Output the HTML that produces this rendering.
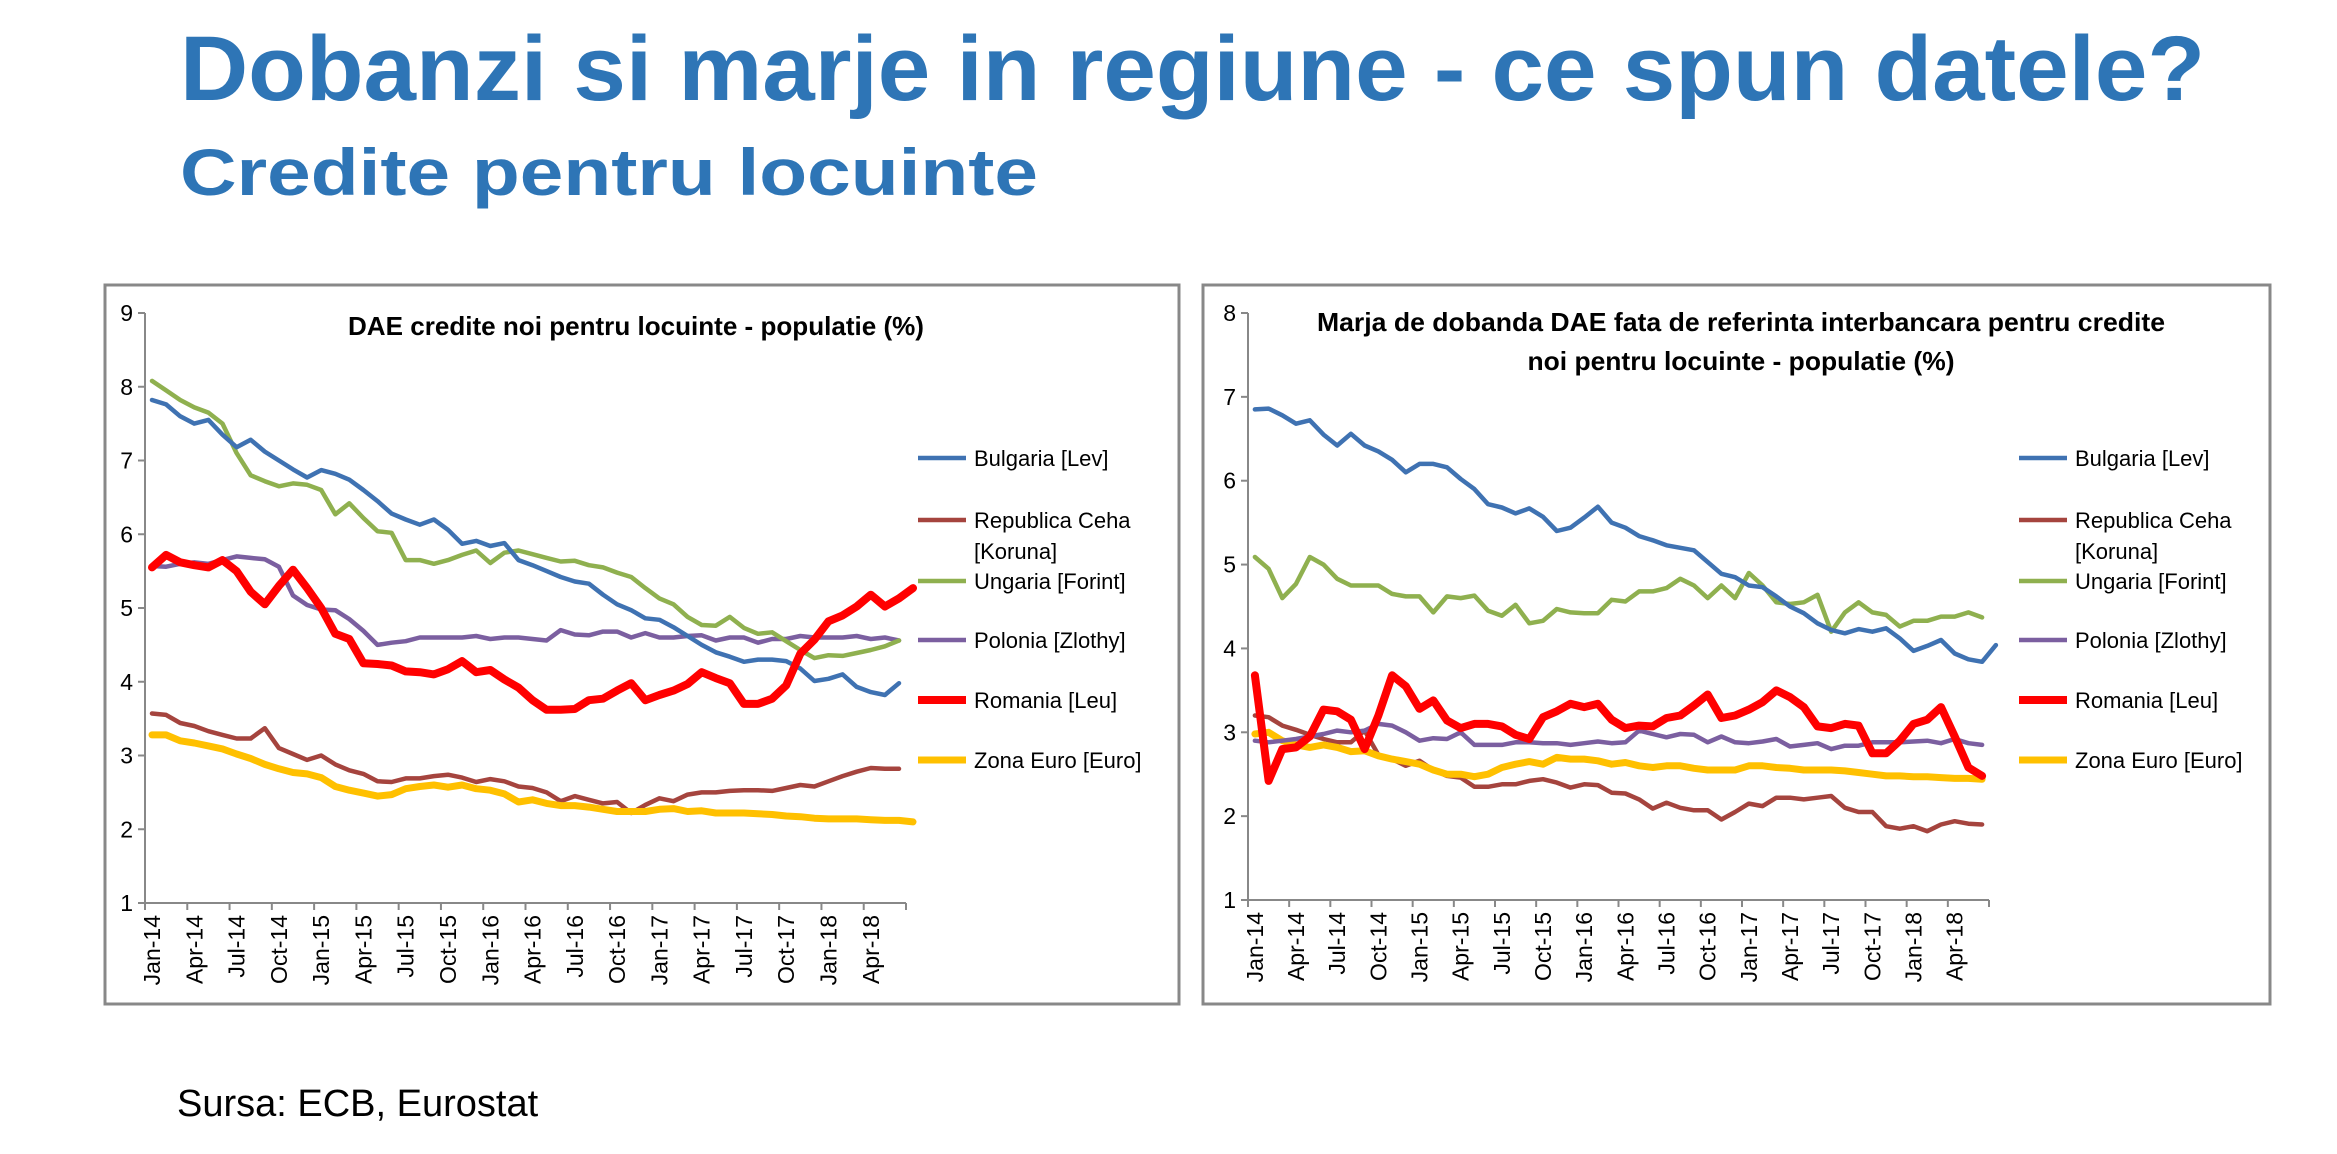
<!DOCTYPE html>
<html><head><meta charset="utf-8"><style>
html,body{margin:0;padding:0;background:#fff;width:2337px;height:1154px;overflow:hidden}
svg{display:block;font-family:"Liberation Sans",Arial,sans-serif}
</style></head><body>
<svg id="s" width="2337" height="1154" viewBox="0 0 2337 1154" xmlns="http://www.w3.org/2000/svg">
<text x="180" y="100" font-size="92" font-weight="bold" fill="#2E75B6" textLength="2025" lengthAdjust="spacingAndGlyphs">Dobanzi si marje in regiune - ce spun datele?</text>
<text x="180" y="195" font-size="66" font-weight="bold" fill="#2E75B6" textLength="858" lengthAdjust="spacingAndGlyphs">Credite pentru locuinte</text>
<text x="177" y="1116" font-size="38" fill="#000">Sursa: ECB, Eurostat</text>
<rect x="105" y="285" width="1074" height="719" fill="#fff" stroke="#888" stroke-width="3"/>
<rect x="1203" y="285" width="1067" height="719" fill="#fff" stroke="#888" stroke-width="3"/>
<text x="636" y="335" font-size="26" font-weight="bold" text-anchor="middle" textLength="576" lengthAdjust="spacingAndGlyphs">DAE credite noi pentru locuinte - populatie (%)</text>
<text x="1741" y="331" font-size="26" font-weight="bold" text-anchor="middle" textLength="848" lengthAdjust="spacingAndGlyphs">Marja de dobanda  DAE fata de referinta interbancara pentru credite</text>
<text x="1741" y="370" font-size="26" font-weight="bold" text-anchor="middle" textLength="427" lengthAdjust="spacingAndGlyphs">noi pentru locuinte - populatie (%)</text>
<g id="g"></g>
</svg>
<script>
var L={
b:[7.82,7.76,7.6,7.5,7.55,7.35,7.18,7.28,7.12,7.0,6.88,6.77,6.87,6.82,6.74,6.6,6.45,6.28,6.2,6.13,6.2,6.06,5.87,5.91,5.84,5.88,5.65,5.58,5.5,5.42,5.36,5.33,5.18,5.05,4.97,4.86,4.84,4.74,4.62,4.5,4.4,4.34,4.27,4.3,4.3,4.28,4.18,4.01,4.04,4.1,3.93,3.86,3.82,3.98],
c:[3.57,3.55,3.44,3.4,3.33,3.28,3.23,3.23,3.37,3.1,3.02,2.94,3.0,2.88,2.8,2.75,2.65,2.64,2.69,2.69,2.72,2.74,2.7,2.64,2.68,2.65,2.58,2.56,2.5,2.38,2.45,2.4,2.35,2.37,2.22,2.33,2.42,2.38,2.47,2.5,2.5,2.52,2.53,2.53,2.52,2.56,2.6,2.58,2.65,2.72,2.78,2.83,2.82,2.82],
u:[8.08,7.95,7.82,7.72,7.65,7.5,7.1,6.8,6.72,6.65,6.69,6.67,6.6,6.27,6.42,6.22,6.04,6.02,5.65,5.65,5.6,5.65,5.72,5.78,5.61,5.75,5.78,5.73,5.68,5.63,5.64,5.58,5.55,5.48,5.42,5.27,5.13,5.05,4.88,4.77,4.76,4.88,4.73,4.65,4.67,4.55,4.43,4.32,4.36,4.35,4.39,4.43,4.48,4.56],
p:[5.57,5.56,5.6,5.62,5.6,5.65,5.7,5.68,5.66,5.56,5.17,5.04,4.98,4.97,4.85,4.69,4.5,4.53,4.55,4.6,4.6,4.6,4.6,4.62,4.58,4.6,4.6,4.58,4.56,4.7,4.64,4.63,4.68,4.68,4.6,4.66,4.6,4.6,4.62,4.63,4.56,4.6,4.6,4.53,4.58,4.58,4.62,4.6,4.6,4.6,4.62,4.58,4.6,4.56],
r:[5.55,5.72,5.62,5.58,5.55,5.65,5.5,5.22,5.05,5.3,5.52,5.27,5.0,4.65,4.58,4.25,4.24,4.22,4.14,4.13,4.1,4.17,4.28,4.13,4.16,4.03,3.92,3.75,3.62,3.62,3.63,3.75,3.77,3.88,3.98,3.75,3.82,3.88,3.97,4.13,4.05,3.98,3.7,3.7,3.77,3.95,4.38,4.57,4.82,4.9,5.02,5.18,5.02,5.13,5.27],
e:[3.28,3.28,3.2,3.17,3.13,3.09,3.02,2.96,2.88,2.82,2.77,2.75,2.7,2.58,2.53,2.49,2.45,2.47,2.55,2.58,2.6,2.57,2.6,2.55,2.53,2.48,2.37,2.4,2.35,2.32,2.32,2.3,2.27,2.24,2.24,2.24,2.27,2.28,2.24,2.25,2.22,2.22,2.22,2.21,2.2,2.18,2.17,2.15,2.14,2.14,2.14,2.13,2.12,2.12,2.1]};
var R={
b:[6.85,6.86,6.78,6.68,6.72,6.55,6.42,6.56,6.42,6.35,6.25,6.1,6.2,6.2,6.16,6.02,5.9,5.72,5.68,5.61,5.67,5.57,5.4,5.44,5.56,5.69,5.5,5.44,5.34,5.29,5.23,5.2,5.17,5.03,4.89,4.85,4.75,4.73,4.62,4.5,4.42,4.3,4.22,4.18,4.23,4.2,4.24,4.12,3.97,4.03,4.1,3.94,3.87,3.84,4.04],
c:[3.2,3.18,3.08,3.03,2.97,2.92,2.88,2.88,3.02,2.73,2.68,2.6,2.66,2.55,2.48,2.46,2.35,2.35,2.38,2.38,2.42,2.44,2.4,2.34,2.38,2.37,2.28,2.27,2.2,2.09,2.16,2.1,2.07,2.07,1.96,2.05,2.15,2.12,2.22,2.22,2.2,2.22,2.24,2.1,2.05,2.05,1.88,1.85,1.88,1.82,1.9,1.94,1.91,1.9],
u:[5.09,4.95,4.6,4.77,5.09,5.0,4.83,4.75,4.75,4.75,4.65,4.62,4.62,4.43,4.62,4.6,4.63,4.45,4.39,4.52,4.3,4.33,4.47,4.43,4.42,4.42,4.58,4.56,4.68,4.68,4.72,4.83,4.75,4.6,4.75,4.6,4.9,4.75,4.55,4.53,4.55,4.64,4.2,4.43,4.55,4.43,4.4,4.26,4.33,4.33,4.38,4.38,4.43,4.37],
p:[2.9,2.88,2.9,2.92,2.95,2.98,3.02,3.0,3.02,3.1,3.08,3.0,2.9,2.93,2.92,3.0,2.85,2.85,2.85,2.88,2.88,2.87,2.87,2.85,2.87,2.89,2.87,2.88,3.02,2.98,2.94,2.98,2.97,2.88,2.95,2.88,2.87,2.89,2.92,2.83,2.85,2.87,2.8,2.84,2.84,2.88,2.88,2.88,2.89,2.9,2.87,2.92,2.87,2.85],
r:[3.68,2.42,2.8,2.82,2.95,3.27,3.25,3.15,2.8,3.2,3.68,3.55,3.28,3.38,3.14,3.05,3.1,3.1,3.07,2.97,2.92,3.18,3.25,3.34,3.3,3.34,3.15,3.05,3.08,3.07,3.17,3.2,3.32,3.45,3.17,3.2,3.27,3.36,3.5,3.42,3.3,3.07,3.05,3.1,3.08,2.75,2.75,2.9,3.1,3.15,3.3,2.95,2.58,2.48],
e:[2.98,3.0,2.9,2.85,2.82,2.85,2.82,2.77,2.78,2.72,2.68,2.65,2.62,2.55,2.5,2.5,2.47,2.5,2.58,2.62,2.65,2.62,2.7,2.68,2.68,2.66,2.62,2.64,2.6,2.58,2.6,2.6,2.57,2.55,2.55,2.55,2.6,2.6,2.58,2.57,2.55,2.55,2.55,2.54,2.52,2.5,2.48,2.48,2.47,2.47,2.46,2.45,2.45,2.44]};
var ST={c:["#A5443E",4.5],b:["#3F72B2",4.5],u:["#8FB04F",4.5],p:["#7B5FA0",4.5],e:["#FFC000",7],r:["#FF0000",8]};
var order=["c","e","p","u","b","r"];
var months=["Jan","Apr","Jul","Oct"];
var out="";
function chart(D,ax,xr,ytop,ybot,ymax,lx){
 var per=(ybot-ytop)/(ymax-1), n=54, cw=(xr-ax)/n;
 out+='<line x1="'+ax+'" y1="'+ytop+'" x2="'+ax+'" y2="'+ybot+'" stroke="#888" stroke-width="2"/>';
 out+='<line x1="'+ax+'" y1="'+ybot+'" x2="'+xr+'" y2="'+ybot+'" stroke="#888" stroke-width="2"/>';
 for(var v=1;v<=ymax;v++){var y=ybot-(v-1)*per;
  out+='<line x1="'+(ax-7)+'" y1="'+y+'" x2="'+ax+'" y2="'+y+'" stroke="#888" stroke-width="2"/>';
  out+='<text x="'+(ax-12)+'" y="'+(y+8)+'" font-size="23" text-anchor="end">'+v+'</text>';}
 for(var i=0;i<=n;i+=3){var x=ax+i*cw;
  out+='<line x1="'+x+'" y1="'+ybot+'" x2="'+x+'" y2="'+(ybot+7)+'" stroke="#888" stroke-width="2"/>';}
 for(var i=0;i<n;i+=3){var x=ax+(i+0.5)*cw+8;
  var lab=months[(i/3)%4]+"-"+(14+Math.floor(i/12));
  out+='<text transform="translate('+x+','+(ybot+12)+') rotate(-90)" font-size="23" text-anchor="end">'+lab+'</text>';}
 order.forEach(function(k){var a=D[k],pts=[];
  for(var i=0;i<a.length;i++){pts.push((ax+(i+0.5)*cw).toFixed(1)+","+(ybot-(a[i]-1)*per).toFixed(1));}
  out+='<polyline points="'+pts.join(" ")+'" fill="none" stroke="'+ST[k][0]+'" stroke-width="'+ST[k][1]+'" stroke-linejoin="round" stroke-linecap="round"/>';});
 var leg=[["b","Bulgaria [Lev]",458],["c","Republica Ceha",520],["u","Ungaria [Forint]",581],["p","Polonia [Zlothy]",640],["r","Romania [Leu]",700],["e","Zona Euro [Euro]",760]];
 leg.forEach(function(l){
  out+='<line x1="'+lx+'" y1="'+l[2]+'" x2="'+(lx+48)+'" y2="'+l[2]+'" stroke="'+ST[l[0]][0]+'" stroke-width="'+ST[l[0]][1]+'"/>';
  out+='<text x="'+(lx+56)+'" y="'+(l[2]+8)+'" font-size="22">'+l[1]+'</text>';});
 out+='<text x="'+(lx+56)+'" y="'+(551+8)+'" font-size="22">[Koruna]</text>';
}
chart(L,145,906,313,903,9,918);
chart(R,1248,1989,313,900,8,2019);
document.getElementById("g").innerHTML=out;
</script>
</body></html>
